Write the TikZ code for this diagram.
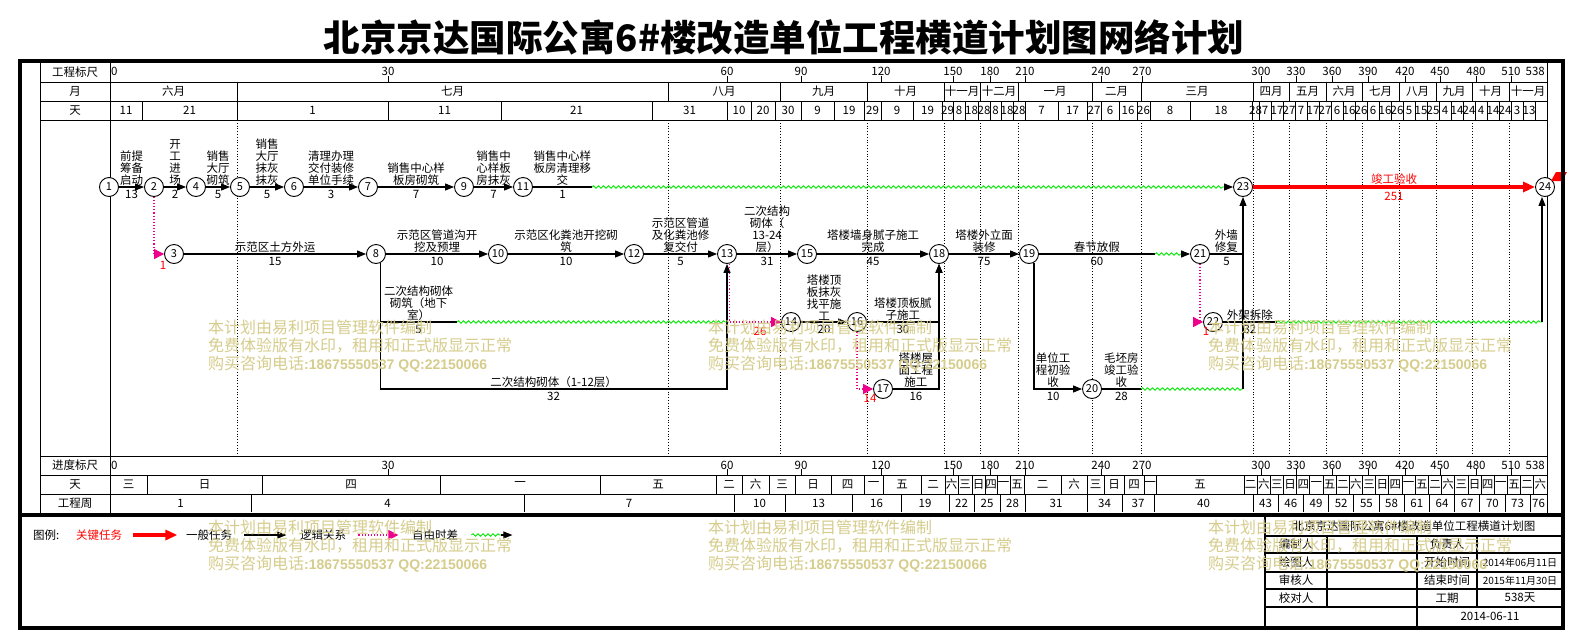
\documentclass[tikz,border=0pt]{standalone}
\usepackage{fontspec}
\setmainfont{Noto Sans CJK SC}
\newfontfamily\latinf{Liberation Sans}
\usepackage{tikz}
\usetikzlibrary{arrows.meta,calc,positioning,decorations.pathmorphing}

\definecolor{slackgreen}{RGB}{0,235,0}
\definecolor{wmark}{RGB}{214,204,140}
\newcommand{\lblsize}{\fontsize{11.5}{12}\selectfont}
\newcommand{\evsize}{\fontsize{11}{11}\selectfont}
\newcommand{\wmsize}{\fontsize{16}{18}\selectfont}

\begin{document}
\begin{tikzpicture}[
        x=1pt, y=-1pt,
        >={Triangle[length=9pt,width=7pt]},
        grid line/.style={line width=0.8pt},
        frame line/.style={line width=4pt},
        month line/.style={dotted, line width=0.8pt},
        event/.style={circle, draw, fill=white, minimum size=19pt, inner sep=0pt, line width=0.9pt, font=\evsize},
        task/.style={line width=1.1pt, ->},
        task line/.style={line width=1.1pt},
        key task/.style={red, line width=3.5pt, -{Triangle[length=12pt,width=10pt]}},
        slack/.style={slackgreen, line width=0.9pt, decorate, decoration={snake, amplitude=1.2pt, segment length=5pt}},
        logic/.style={magenta, dotted, line width=1.1pt, -{Triangle[length=10pt,width=10pt]}},
        lbl/.style={above, align=center, font=\lblsize, inner sep=1pt},
        dur/.style={below, font=\lblsize, inner sep=3pt},
        float/.style={red, font=\lblsize, inner sep=0pt},
        cell/.style={font=\lblsize, inner sep=0pt},
        wm/.style={wmark, anchor=west, font=\wmsize, inner sep=0pt}
    ]
    \fill[white] (0,0) rectangle (1570,632);
    \useasboundingbox (0,0) rectangle (1570,632);

    \node[font=\fontsize{36.5}{36.5}\selectfont\bfseries] (title) at (784,38) {北京京达国际公寓6\#楼改造单位工程横道计划图网络计划};

    % table lines
    \draw[grid line] (40,61) -- (40,513) (110,61) -- (110,513) (1547,61) -- (1547,513);
    \foreach \y in {82,101,120,456,475,494}
        \draw[grid line] (40,\y) -- (1547,\y);
    \node[cell] (h-scale) at (75,72) {工程标尺};
    \node[cell] (h-month) at (75,91.5) {月};
    \node[cell] (h-day) at (75,110.5) {天};
    \node[cell] (f-scale) at (75,465.5) {进度标尺};
    \node[cell] (f-day) at (75,484.5) {天};
    \node[cell] (f-week) at (75,503.5) {工程周};

    % rulers
    \node[cell, anchor=west] (top-0) at (111,71) {0};
    \node[cell, anchor=west] (bot-0) at (111,465) {0};
    \foreach \x/\t [count=\i] in {388/30,727/60,801/90,881/120,953/150,990/180,1025/210,1101/240,1142/270,1261/300,1296/330,1332/360,1368/390,1405/420,1440/450,1476/480,1511/510}{
        \draw[grid line] (\x,76) -- (\x,82) (\x,469) -- (\x,475);
        \node[cell] (top-\i) at (\x,71) {\t};
        \node[cell] (bot-\i) at (\x,465) {\t};
    }
    \node[cell, anchor=east] (top-end) at (1545,71) {538};
    \node[cell, anchor=east] (bot-end) at (1545,465) {538};

    % months
    \foreach \a/\b/\t [count=\i] in {110/237/六月,237/668/七月,668/780/八月,780/867/九月,867/944/十月,944/980/十一月,980/1018/十二月,1018/1092/一月,1092/1141/二月,1141/1253/三月,1253/1289/四月,1289/1326/五月,1326/1362/六月,1362/1399/七月,1399/1436/八月,1436/1472/九月,1472/1509/十月,1509/1547/十一月}{
        \draw[grid line] (\b,82) -- (\b,101);
        \node[cell] (mon-\i) at ({(\a+\b)/2},91.5) {\t};
    }

    % days
    \foreach \a/\b/\t [count=\i] in {110/142/11,142/237/21,237/388/1,388/501/11,501/652/21,652/727/31,727/751/10,751/775/20,775/801/30,801/834/9,834/864/19,864/881/29,881/913/9,913/942/19,942/953/29,953/965/8,965/978/18,978/990/28,990/1001/8,1001/1013/18,1013/1025/28,1025/1058/7,1058/1087/17,1087/1101/27,1101/1119/6,1119/1137/16,1137/1150/26,1150/1190/8,1190/1252/18,1252/1259/28}{
        \draw[grid line] (\b,101) -- (\b,120);
        \node[cell] (day-\i) at ({(\a+\b)/2},110.5) {\t};
    }
    \foreach \t [count=\i] in {7,17,27,7,17,27,6,16,26,6,16,26,5,15,25,4,14,24,4,14,24,3,13}{
        \pgfmathsetmacro\xa{1259+12*(\i-1)}
        \draw[grid line] (\xa+12,101) -- (\xa+12,120);
        \node[cell] (dayr-\i) at (\xa+6,110.5) {\t};
    }

    % weekdays
    \foreach \a/\b/\t [count=\i] in {110/147/三,147/262/日,262/440/四,440/600/一,600/716/五,716/742/二,742/769/六,769/795/三,795/831/日,831/864/四,864/883/一,883/921/五,921/945/二,945/958/六,958/972/三,972/985/日,985/997/四,997/1010/一,1010/1024/五,1024/1061/二,1061/1087/六,1087/1104/三,1104/1124/日,1124/1144/四,1144/1156/一,1156/1244/五}{
        \draw[grid line] (\b,475) -- (\b,494);
        \node[cell] (wd-\i) at ({(\a+\b)/2},484.5) {\t};
    }
    \foreach \t [count=\i] in {二,六,三,日,四,一,五,二,六,三,日,四,一,五,二,六,三,日,四,一,五,二,六}{
        \pgfmathsetmacro\xa{1244+13.17*(\i-1)}
        \draw[grid line] (\xa+13.17,475) -- (\xa+13.17,494);
        \node[cell] (wdr-\i) at (\xa+6.6,484.5) {\t};
    }

    % weeks
    \foreach \a/\b/\t [count=\i] in {110/251/1,251/524/4,524/734/7,734/785/10,785/852/13,852/901/16,901/949/19,949/974/22,974/1000/25,1000/1025/28,1025/1087/31,1087/1122/34,1122/1154/37,1154/1253/40}{
        \draw[grid line] (\b,494) -- (\b,512);
        \node[cell] (wk-\i) at ({(\a+\b)/2},503.5) {\t};
    }
    \foreach \t [count=\i] in {43,46,49,52,55,58,61,64,67,70,73}{
        \pgfmathsetmacro\xa{1253+25.2*(\i-1)}
        \draw[grid line] (\xa+25.2,494) -- (\xa+25.2,512);
        \node[cell] (wkr-\i) at (\xa+12.6,503.5) {\t};
    }
    \node[cell] (wk-end) at (1538.5,503.5) {76};

    % month marks in the network
    \foreach \x in {237,668,780,867,944,980,1018,1092,1141,1253,1289,1326,1362,1399,1436,1472,1509}
        \draw[month line] (\x,120) -- (\x,456);

    % events
    \node[event] (n1) at (109,187) {1};
    \node[event] (n2) at (154,187) {2};
    \node[event] (n4) at (196,187) {4};
    \node[event] (n5) at (240,187) {5};
    \node[event] (n6) at (294,187) {6};
    \node[event] (n7) at (368,187) {7};
    \node[event] (n9) at (464,187) {9};
    \node[event] (n11) at (523,187) {11};
    \node[event] (n23) at (1243,187) {23};
    \node[event] (n24) at (1545,187) {24};
    \node[event] (n3) at (174,254) {3};
    \node[event] (n8) at (376,254) {8};
    \node[event] (n10) at (498,254) {10};
    \node[event] (n12) at (634,254) {12};
    \node[event] (n13) at (727,254) {13};
    \node[event] (n15) at (807,254) {15};
    \node[event] (n18) at (939,254) {18};
    \node[event] (n19) at (1029,254) {19};
    \node[event] (n21) at (1200,254) {21};
    \node[event] (n14) at (791,322) {14};
    \node[event] (n16) at (857,322) {16};
    \node[event] (n22) at (1213,322) {22};
    \node[event] (n17) at (883,389) {17};
    \node[event] (n20) at (1092,389) {20};
    \fill[red] (1551,181) -- (1556,172) -- (1567,172) -- (1562,181) -- cycle;

    % main line
    \draw[task] (n1) -- node[lbl]{前提\\筹备\\启动} node[dur]{13} (n2);
    \draw[task] (n2) -- node[lbl]{开\\工\\进\\场} node[dur]{2} (n4);
    \draw[task] (n4) -- node[lbl]{销售\\大厅\\砌筑} node[dur]{5} (n5);
    \draw[task] (n5) -- node[lbl]{销售\\大厅\\抹灰\\抹灰} node[dur]{5} (n6);
    \draw[task] (n6) -- node[lbl]{清理办理\\交付装修\\单位手续} node[dur]{3} (n7);
    \draw[task] (n7) -- node[lbl]{销售中心样\\板房砌筑} node[dur]{7} (n9);
    \draw[task] (n9) -- node[lbl]{销售中\\心样板\\房抹灰} node[dur]{7} (n11);
    \coordinate (s11) at (592,187);
    \coordinate (e11) at (1224,187);
    \draw[task line] (n11) -- node[lbl]{销售中心样\\板房清理移\\交} node[dur]{1} (s11);
    \draw[slack] (s11) -- (e11);
    \draw[task] (e11) -- (n23);
    \draw[key task] (n23) -- node[lbl, red]{竣工验收} node[dur, red]{251} (n24);

    % second line
    \draw[logic] (n2) |- (n3);
    \node[float] (f3) at (163,265) {1};
    \draw[task] (n3) -- node[lbl]{示范区土方外运} node[dur]{15} (n8);
    \draw[task] (n8) -- node[lbl]{示范区管道沟开\\挖及预埋} node[dur]{10} (n10);
    \draw[task] (n10) -- node[lbl]{示范区化粪池开挖砌\\筑} node[dur]{10} (n12);
    \draw[task] (n12) -- node[lbl]{示范区管道\\及化粪池修\\复交付} node[dur]{5} (n13);
    \draw[task] (n13) -- node[lbl]{二次结构\\砌体（\\13-24\\层）} node[dur]{31} (n15);
    \draw[task] (n15) -- node[lbl]{塔楼墙身腻子施工\\完成} node[dur]{45} (n18);
    \draw[task] (n18) -- node[lbl]{塔楼外立面\\装修} node[dur]{75} (n19);
    \coordinate (s19) at (1155,254);
    \coordinate (e19) at (1182,254);
    \draw[task line] (n19) -- node[lbl]{春节放假} node[dur]{60} (s19);
    \draw[slack] (s19) -- (e19);
    \draw[task] (e19) -- (n21);
    \draw[task line] (n21) -- node[lbl]{外墙\\修复} node[dur]{5} (n21 -| n23);

    % lower lines
    \draw[task] (n8.-65) |- node[pos=0.75, lbl]{二次结构砌体（1-12层）} node[pos=0.75, dur]{32} (n13 |- n17) -- (n13);
    \coordinate (b8) at (n8.-65 |- n14);
    \coordinate (s8) at (457,322);
    \draw[task line] (b8) -- node[lbl]{二次结构砌体\\砌筑（地下\\室）} node[dur]{5} (s8);
    \draw[slack] (s8) -- (n13 |- n14);
    \draw[logic] (n13.-75) |- (n14);
    \node[float] (f13) at (760,331) {26};
    \draw[task] (n14) -- node[lbl]{塔楼顶\\板抹灰\\找平施\\工} node[dur]{20} (n16);
    \draw[task] (n16) -- node[lbl]{塔楼顶板腻\\子施工} node[dur]{30} (n18 |- n16) -- (n18);
    \draw[logic] (n16) |- (n17);
    \node[float] (f16) at (870,398) {14};
    \draw[task] (n17) -- node[lbl]{塔楼屋\\面工程\\施工} node[dur]{16} (n18 |- n17) -- (n18);
    \draw[task] (n19.-60) |- node[pos=0.7, lbl]{单位工\\程初验\\收} node[pos=0.7, dur]{10} (n20);
    \coordinate (s20) at (1141,389);
    \draw[task line] (n20) -- node[lbl]{毛坯房\\竣工验\\收} node[dur]{28} (s20);
    \draw[slack] (s20) -- (n23 |- n20);
    \draw[task] (n23 |- n20) -- (n23);
    \draw[logic] (n21) |- (n22);
    \node[float] (f21) at (1206,331) {1};
    \coordinate (s22) at (1277,322);
    \coordinate (e22) at (1542,322);
    \draw[task line] (n22) -- node[lbl]{外架拆除} node[dur]{32} (s22);
    \draw[slack] (s22) -- (e22);
    \draw[task] (e22) -- (e22 |- n24.south);

    % legend
    \node[cell, anchor=west] (lg) at (33,535) {图例:};
    \node[cell, anchor=west, red] (lg-key) at (76,535) {关键任务};
    \draw[key task] ([xshift=11pt]lg-key.east) -- ++(44,0);
    \node[cell, anchor=west] (lg-task) at (186,535) {一般任务};
    \draw[task] ([xshift=12pt]lg-task.east) -- ++(42,0);
    \node[cell, anchor=west] (lg-logic) at (300,535) {逻辑关系};
    \draw[logic] ([xshift=12pt]lg-logic.east) -- ++(40,0);
    \node[cell, anchor=west] (lg-slack) at (412,535) {自由时差};
    \draw[slack] ([xshift=13pt]lg-slack.east) -- ++(30,0) coordinate (lg-end);
    \draw[task] (lg-end) -- ++(11,0);

    % title block
    \draw[line width=1.3pt] (1265,515) -- (1265,628);
    \foreach \y in {536,553,572,589,607}
        \draw[line width=1.1pt] (1265,\y) -- (1563,\y);
    \draw[line width=1.1pt] (1327,536) -- (1327,607) (1477,536) -- (1477,607) (1417,536) -- (1417,628);
    \node[cell] (tb-title) at (1414,526) {北京京达国际公寓6\#楼改造单位工程横道计划图};
    \node[cell] (tb-a) at (1296,544.5) {编制人};
    \node[cell] (tb-b) at (1447,544.5) {负责人};
    \node[cell] (tb-c) at (1296,562.5) {绘图人};
    \node[cell] (tb-d) at (1447,562.5) {开始时间};
    \node[cell, font=\fontsize{10}{10}\selectfont] (tb-e) at (1520,562.5) {2014年06月11日};
    \node[cell] (tb-f) at (1296,580.5) {审核人};
    \node[cell] (tb-g) at (1447,580.5) {结束时间};
    \node[cell, font=\fontsize{10}{10}\selectfont] (tb-h) at (1520,580.5) {2015年11月30日};
    \node[cell] (tb-i) at (1296,598) {校对人};
    \node[cell] (tb-j) at (1447,598) {工期};
    \node[cell] (tb-k) at (1520,598) {538天};
    \node[cell] (tb-l) at (1490,616) {2014-06-11};

    % frame
    \draw[frame line] (20,61) rectangle (1563,628);
    \draw[frame line] (20,515) -- (1563,515);

    % watermark
    \foreach \x in {208,708,1208}{
        \foreach \y in {327,527}{
            \node[wm] (wm-\x-\y-a) at (\x,\y) {本计划由易利项目管理软件编制};
            \node[wm] (wm-\x-\y-b) at (\x,\y+18.5) {免费体验版有水印，租用和正式版显示正常};
            \node[wm] (wm-\x-\y-c) at (\x,\y+37) {购买咨询电话{\latinf\bfseries\fontsize{14}{18}\selectfont:18675550537 QQ:22150066}};
        }
    }
\end{tikzpicture}
\end{document}
